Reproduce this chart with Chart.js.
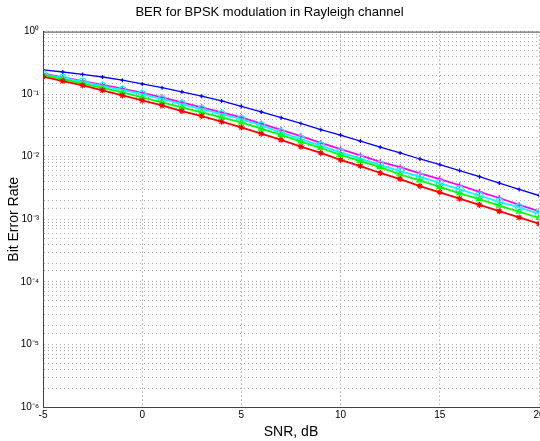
<!DOCTYPE html>
<html>
<head>
<meta charset="utf-8">
<script src="https://cdn.jsdelivr.net/npm/chart.js@4/dist/chart.umd.min.js"></script>
<style>
  html, body { margin: 0; padding: 0; background: #fff; }
  #wrap { width: 540px; height: 441px; overflow: hidden; position: relative; }
</style>
</head>
<body>
<div id="wrap"><canvas id="berChart" width="560" height="441"></canvas></div>
<script>
// SNR in dB
const snr = [-5, -4, -3, -2, -1, 0, 1, 2, 3, 4, 5, 6, 7, 8, 9, 10, 11, 12, 13, 14, 15, 16, 17, 18, 19, 20];

// BER curves
const berBlue = [0.245, 0.226, 0.207, 0.188, 0.167, 0.146, 0.127, 0.109, 0.093, 0.078, 0.064, 0.052, 0.042, 0.034, 0.027, 0.0222,
  0.0178, 0.0142, 0.0115, 0.0092, 0.0075, 0.006, 0.0048, 0.0038, 0.003, 0.0024];
const berMagenta = [0.214, 0.186, 0.162, 0.141, 0.123, 0.105, 0.0891, 0.0741, 0.0617, 0.0513, 0.0427, 0.0339, 0.0269, 0.0214, 0.0166, 0.0132,
  0.0105, 0.0083, 0.0068, 0.0054, 0.0044, 0.0035, 0.00275, 0.00219, 0.0017, 0.00135];
const berCyan = [0.209, 0.182, 0.158, 0.135, 0.117, 0.100, 0.0832, 0.0692, 0.0575, 0.0479, 0.0398, 0.0316, 0.0245, 0.0191, 0.0151, 0.0117,
  0.0093, 0.0074, 0.0059, 0.0048, 0.0038, 0.0030, 0.0024, 0.0019, 0.00155, 0.00123];
const berGreen = [0.204, 0.174, 0.148, 0.126, 0.107, 0.0891, 0.0741, 0.0617, 0.0513, 0.0427, 0.0355, 0.0282, 0.0224, 0.0174, 0.0138, 0.0107,
  0.0085, 0.0068, 0.0052, 0.0042, 0.0033, 0.0026, 0.0021, 0.00166, 0.00132, 0.00105];
const berRed = [0.191, 0.162, 0.138, 0.115, 0.0955, 0.0794, 0.0661, 0.0537, 0.0447, 0.0363, 0.0295, 0.0234, 0.0186, 0.0145, 0.0115, 0.0089,
  0.0071, 0.0055, 0.0044, 0.0034, 0.0027, 0.00214, 0.0017, 0.00135, 0.00107, 0.00085];

const xTicks = [-5, 0, 5, 10, 15, 20];
const yTickLabels = { 0: "10\u2070", "-1": "10\u207B\u00B9", "-2": "10\u207B\u00B2", "-3": "10\u207B\u00B3",
  "-4": "10\u207B\u2074", "-5": "10\u207B\u2075", "-6": "10\u207B\u2076" };

const pts = arr => arr.map((v, i) => ({ x: snr[i], y: v }));

function series(data, color, style, radius, width) {
  return {
    data: pts(data),
    borderColor: color,
    backgroundColor: color,
    borderWidth: width,
    pointStyle: style,
    pointRadius: radius,
    pointBorderWidth: 1.2,
    pointBorderColor: color,
    pointBackgroundColor: "rgba(0,0,0,0)",
    tension: 0
  };
}

// draws the box on top of the plot like MATLAB does
const boxPlugin = {
  id: "box",
  afterDraw(chart) {
    const a = chart.chartArea, ctx = chart.ctx;
    ctx.save();
    ctx.strokeStyle = "#444";
    ctx.lineWidth = 1;
    ctx.beginPath();
    ctx.moveTo(a.left + 0.5, a.bottom + 0.5);
    ctx.lineTo(a.left + 0.5, a.top + 0.5);
    ctx.lineTo(a.right + 0.5, a.top + 0.5);
    ctx.stroke();
    ctx.restore();
  }
};

const ctx = document.getElementById("berChart").getContext("2d");
new Chart(ctx, {
  type: "line",
  data: {
    datasets: [
      series(berRed, "#ff0000", "star", 3, 1.8),
      series(berGreen, "#00ff00", "triangle", 3, 1.8),
      series(berCyan, "#00ffff", "circle", 3.5, 1.8),
      series(berMagenta, "#ff00ff", "cross", 3, 1.8),
      series(berBlue, "#0000ff", "cross", 2, 1.3)
    ]
  },
  options: {
    responsive: false,
    animation: false,
    devicePixelRatio: 1,
    layout: { padding: { left: 0, right: 21, top: 0, bottom: 0 } },
    plugins: {
      legend: { display: false },
      tooltip: { enabled: false },
      title: {
        display: true,
        text: "BER for BPSK modulation in Rayleigh channel",
        color: "#000",
        font: { family: "Liberation Sans, Arial, sans-serif", size: 13, weight: "normal" },
        padding: { top: 5, bottom: 11 }
      }
    },
    scales: {
      x: {
        type: "linear",
        min: -5,
        max: 20,
        afterBuildTicks: s => { s.ticks = xTicks.map(v => ({ value: v })); },
        afterFit: s => { s.height = 34; },
        ticks: {
          color: "#000",
          font: { family: "Liberation Sans, Arial, sans-serif", size: 10 },
          padding: 2,
          maxRotation: 0
        },
        grid: { color: "#8a8a8a", lineWidth: 1, drawTicks: false },
        border: { color: "#444", width: 1, dash: [1, 3] },
        title: {
          display: true,
          text: "SNR, dB",
          color: "#000",
          font: { family: "Liberation Sans, Arial, sans-serif", size: 14 },
          padding: { top: 3, bottom: 0 }
        }
      },
      y: {
        type: "logarithmic",
        min: 1e-6,
        max: 1,
        afterFit: s => { s.width = 43; },
        ticks: {
          autoSkip: false,
          color: "#000",
          font: { family: "Liberation Sans, Arial, sans-serif", size: 10 },
          padding: 4,
          callback: v => {
            const e = Math.log10(v);
            const r = Math.round(e);
            return Math.abs(e - r) < 1e-9 ? yTickLabels[r] : "";
          }
        },
        grid: { color: "#b0b0b0", lineWidth: 1, drawTicks: false },
        border: { color: "#444", width: 1, dash: [1, 3] },
        title: {
          display: true,
          text: "Bit Error Rate",
          color: "#000",
          font: { family: "Liberation Sans, Arial, sans-serif", size: 14 },
          padding: { top: 6, bottom: 0 }
        }
      }
    }
  },
  plugins: [boxPlugin]
});
</script>
</body>
</html>
